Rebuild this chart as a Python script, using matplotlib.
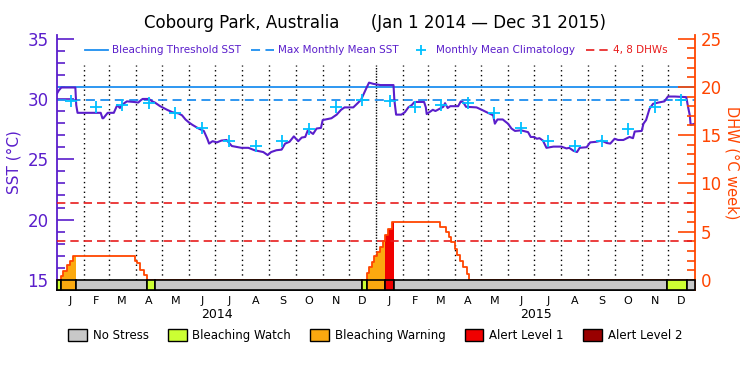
import numpy as np
import pandas as pd
import matplotlib
matplotlib.use('Agg')
import matplotlib.pyplot as plt
from matplotlib.patches import Patch
from matplotlib.lines import Line2D

# day numbers counted from Jan 1 2014
sst_day = [0, 2, 5, 21, 22, 23.5, 50, 52, 53, 58, 65, 69, 72, 74, 77, 80, 88, 93, 96, 98,
           105, 109, 112, 118, 126, 132, 139, 143, 147, 151, 155, 162, 168, 172, 174, 178,
           183, 188, 194, 200, 211, 219, 226, 236, 241, 245, 251, 257, 261, 266, 271, 276,
           280, 284, 287, 293, 297, 302, 304, 314, 320, 325, 329, 339, 344, 348, 354, 357,
           362, 370, 385, 386, 388, 394, 398, 402, 406, 409, 420, 422, 423, 427, 430, 433,
           438, 442, 444, 447, 450, 459, 462, 465, 468, 480, 486, 493, 499, 501, 504, 510,
           516, 520, 524, 531, 539, 542, 546, 549, 552, 556, 560, 568, 577, 583, 586, 591,
           595, 598, 606, 610, 617, 623, 629, 633, 638, 642, 648, 655, 659, 661, 669, 671,
           674, 678, 682, 688, 695, 699, 707, 720, 722, 724, 725, 730]
sst_val = [30.45, 30.7, 30.95, 30.95, 29.5, 28.85, 28.85, 28.4, 28.4, 28.85, 28.85, 29.5, 29.25,
           29.45, 29.65, 29.8, 29.75, 29.7, 29.9, 30.0, 30.0, 29.8, 29.7, 29.4, 29.1, 28.9,
           28.8, 28.65, 28.3, 28.05, 27.85, 27.55, 27.35, 26.7, 26.3, 26.5, 26.4, 26.55, 26.6,
           26.1, 25.95, 25.95, 25.75, 25.6, 25.35, 25.6, 25.75, 25.8, 26.3, 26.45, 26.9, 26.5,
           26.8, 26.85, 27.4, 27.1, 27.55, 27.6, 28.25, 28.4, 28.7, 29.1, 29.3, 29.3, 29.65,
           29.95, 30.9, 31.35, 31.25, 31.15, 31.15, 29.9, 28.7, 28.7, 28.9, 29.3, 29.5, 29.75,
           29.75, 29.3, 28.75, 28.95, 29.1, 29.0, 29.2, 29.35, 29.65, 29.25, 29.4, 29.4, 29.8,
           29.7, 29.35, 29.3, 29.1, 28.85, 28.65, 27.95, 28.3, 28.3, 27.95, 27.55, 27.35, 27.4,
           27.25, 26.85, 26.85, 26.7, 26.75, 26.55, 25.95, 26.05, 26.05, 25.9, 25.95, 25.7,
           25.6, 25.95, 26.0, 26.4, 26.45, 26.55, 26.35, 26.3, 26.7, 26.6, 26.6, 26.85, 26.75,
           27.3, 27.35, 27.95, 28.25, 29.2, 29.6, 29.7, 29.8, 30.2, 30.2, 30.15, 29.35, 28.65,
           27.85, 27.95]

dhw_day = [0, 4.6, 7.2, 11, 15, 18.7, 89, 92, 95, 99, 103,
           355, 357, 360, 363, 366, 369.5, 372.5, 375.5, 379, 383,
           438, 445, 448, 451, 455, 458, 461, 465, 469, 471, 730]
dhw_val = [0, 0.45, 0.97, 1.5, 1.98, 2.5, 2.0, 1.74, 1.04, 0.52, 0,
           0.69, 1.32, 1.9, 2.5, 2.9, 3.4, 4.0, 4.7, 5.3, 6.0,
           5.5, 5.0, 4.5, 3.9, 3.2, 2.6, 2.0, 1.3, 0.6, 0, 0]

clim = [29.8, 29.3, 29.5, 29.65, 28.85, 27.6, 26.55, 26.1, 26.55, 27.5, 29.3, 29.9]
mmm = 29.95
thresh = 30.95
dhw_lines = [4, 8]

stress_start = [0, 4.6, 21.4, 102.6, 112.5, 348.6, 355, 375.6, 386, 697.6, 721]
stress_end = [4.6, 21.4, 102.6, 112.5, 348.6, 355, 375.6, 386, 697.6, 721, 730]
stress_lvl = [1, 2, 0, 1, 0, 1, 2, 3, 0, 1, 0]
stress_names = ['No Stress', 'Bleaching Watch', 'Bleaching Warning', 'Alert Level 1', 'Alert Level 2']
stress_cols = ['#c8c8c8', '#ccff33', '#fba90f', '#f00000', '#990000']

months = ['J', 'F', 'M', 'A', 'M', 'J', 'J', 'A', 'S', 'O', 'N', 'D']

purple = '#5a1ecb'
orange = '#ff4500'
blue = '#1e8ff0'

t0 = pd.Timestamp('2014-01-01')
mstart = pd.date_range('2014-01-01', '2015-12-01', freq='MS')
mend = mstart + pd.offsets.MonthBegin(1)
m0 = np.array([(d - t0).days for d in mstart])
m1 = np.array([(d - t0).days for d in mend])
mmid = (m0 + m1) / 2.0

fig = plt.figure(figsize=(7.5, 3.75), dpi=100)
ax = fig.add_axes([0.076, 0.2267, 0.8507, 0.68])
ax2 = ax.twinx()

ylo, yhi = 14.17, 35.3
ax.set_ylim(ylo, yhi)
ax2.set_ylim(1.25 * (ylo - 15), 1.25 * (yhi - 15))
ax.set_xlim(0, 730)

# month dividers
for d in m0[1:]:
    ls = (0, (1, 1)) if d == 365 else (0, (1, 2.5))
    ax.plot([d, d], [15, 32.8], color='k', lw=1, ls=ls, zorder=1)

ax.axhline(thresh, color=blue, lw=1.3, zorder=2)
ax.axhline(mmm, color=blue, lw=1.3, ls=(0, (5, 3)), zorder=2)
ax.plot(sst_day, sst_val, color=purple, lw=1.5, zorder=3)
cl, = ax.plot(mmid, clim * 2, '+', color='#00c0ff', ms=8, mew=1.3, zorder=4)

for v in dhw_lines:
    ax2.axhline(v, color='#e81c1c', lw=1.2, ls=(0, (5, 3)))

# fill under DHW for warning/alert periods
dd = np.array(dhw_day)
dv = np.array(dhw_val)
for s, e, l in zip(stress_start, stress_end, stress_lvl):
    if l >= 2:
        xs = np.concatenate([[s], dd[(dd > s) & (dd < e)], [e]])
        ys = dv[np.searchsorted(dd, xs, side='right') - 1]
        ax2.fill_between(xs, 0, ys, step='post', color=stress_cols[l], lw=0)
ax2.step(dhw_day, dhw_val, where='post', color=orange, lw=1.3)

# stress bar
bb = 1.25 * (ylo - 15)
ax2.bar(stress_start, -bb, width=np.array(stress_end) - np.array(stress_start),
        bottom=bb, align='edge', color=[stress_cols[l] for l in stress_lvl],
        edgecolor='k', lw=1.2, zorder=5, clip_on=False)

# axes styling
for s in ['top']:
    ax.spines[s].set_visible(False)
    ax2.spines[s].set_visible(False)
ax.spines['right'].set_visible(False)
ax2.spines['left'].set_visible(False)
ax2.spines['bottom'].set_visible(False)
ax.spines['left'].set_color(purple)
ax.spines['left'].set_linewidth(1.3)
ax2.spines['right'].set_color(orange)
ax2.spines['right'].set_linewidth(1.3)
ax.spines['bottom'].set_linewidth(1.3)

ax.set_yticks([15, 20, 25, 30, 35])
ax.set_yticks(np.arange(15, 36, 1), minor=True)
ax.tick_params(axis='y', which='major', direction='in', length=12, width=1.2,
               color=purple, labelcolor=purple, labelsize=12, pad=6)
ax.tick_params(axis='y', which='minor', direction='in', length=6, width=1.2, color=purple)
ax2.set_yticks([0, 5, 10, 15, 20, 25])
ax2.set_yticks(np.arange(0, 26, 1), minor=True)
ax2.tick_params(axis='y', which='major', direction='in', length=12, width=1.2,
                color=orange, labelcolor=orange, labelsize=12, pad=4)
ax2.tick_params(axis='y', which='minor', direction='in', length=6, width=1.2, color=orange)

ax.set_xticks(mmid)
ax.set_xticklabels(months * 2, fontsize=8)
ax.tick_params(axis='x', length=0, pad=4)
ax.text(182.5, -0.095, '2014', transform=ax.get_xaxis_transform(), ha='center', va='center', fontsize=9)
ax.text(547.5, -0.095, '2015', transform=ax.get_xaxis_transform(), ha='center', va='center', fontsize=9)

ax.set_ylabel('SST (\u00b0C)', color=purple, fontsize=11, labelpad=4)
ax2.set_ylabel('DHW (\u00b0C week)', color=orange, fontsize=10.5, rotation=270, labelpad=13)

fig.text(0.5, 0.94, 'Cobourg Park, Australia      (Jan 1 2014 \u2014 Dec 31 2015)',
         ha='center', va='center', fontsize=12)

hl = [Line2D([], [], color=blue, lw=1.3),
      Line2D([], [], color=blue, lw=1.3, ls=(0, (5, 3))),
      Line2D([], [], ls='none', marker='+', color='#00c0ff', ms=7, mew=1.3),
      Line2D([], [], color='#e81c1c', lw=1.2, ls=(0, (5, 3)))]
leg = ax2.legend(hl, ['Bleaching Threshold SST', 'Max Monthly Mean SST',
                      'Monthly Mean Climatology', '4, 8 DHWs'],
                 loc='center', bbox_to_anchor=(0.5, 0.94), ncol=4, frameon=False,
                 fontsize=7.5, handlelength=2.2, columnspacing=1.0, handletextpad=0.4)
for t, c in zip(leg.get_texts(), [purple, purple, purple, '#e81c1c']):
    t.set_color(c)

ph = [Patch(facecolor=c, edgecolor='k') for c in stress_cols]
fig.legend(ph, stress_names, loc='center', bbox_to_anchor=(0.5, 0.105), ncol=5,
           frameon=False, fontsize=8.5, handlelength=1.6, handleheight=1.2,
           columnspacing=1.6, handletextpad=0.5)

fig.savefig('out.png', dpi=100)
